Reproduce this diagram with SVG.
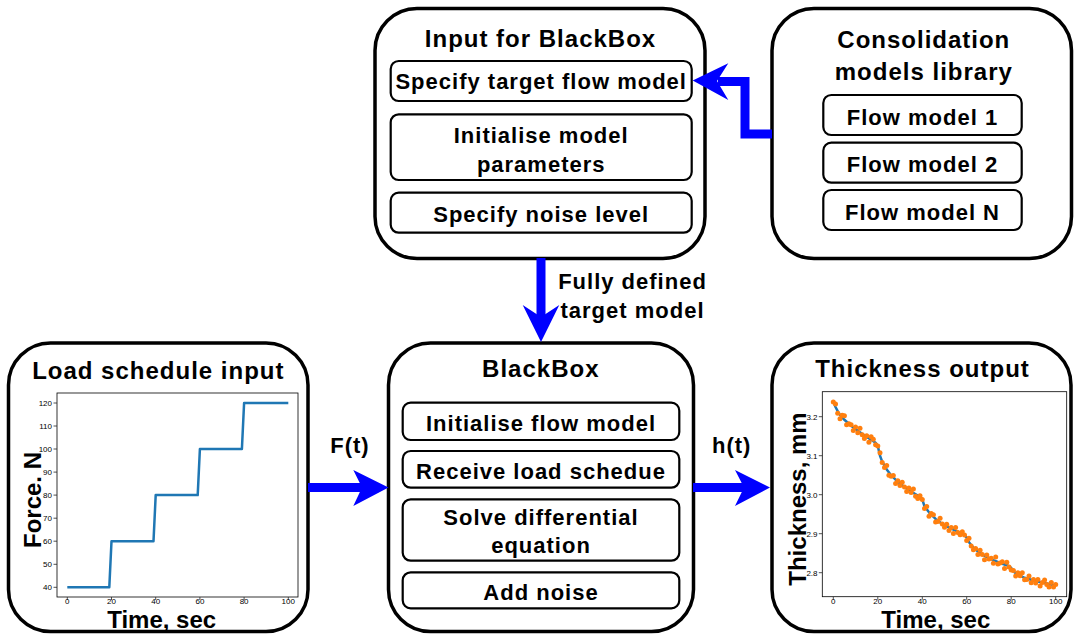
<svg xmlns="http://www.w3.org/2000/svg" width="1074" height="634" viewBox="0 0 1074 634">
<style>
.box{fill:#fff;stroke:#000;stroke-width:3.5}
.inner{fill:#fff;stroke:#000;stroke-width:2.2}
text{font-family:"Liberation Sans",Arial,sans-serif;fill:#000}
.title{font-size:24px;font-weight:bold;letter-spacing:1px;text-anchor:middle}
.lbl{font-size:22px;font-weight:bold;letter-spacing:1px;text-anchor:middle}
.axl{font-size:24px;font-weight:bold;text-anchor:middle}
.tk{font-size:8px;fill:#262626}
.tky{text-anchor:end}
.tkx{text-anchor:middle}
.frame{fill:#fff;stroke:#000;stroke-width:0.8}
.tm{stroke:#262626;stroke-width:0.8}
.conn{fill:none;stroke:#0000ff;stroke-width:9}
.head{fill:#0000ff}
.curve{fill:none;stroke:#1f77b4;stroke-width:2.5;stroke-linejoin:round}
.dots circle{fill:#ff7f0e}
</style>

<g id="input-blackbox">
<rect class="box" x="375" y="8.5" width="330" height="250" rx="42"/>
<text class="title" x="540.5" y="46.7">Input for BlackBox</text>
<rect class="inner" x="390.7" y="61" width="301" height="40" rx="8"/>
<text class="lbl" x="541.2" y="89.3">Specify target flow model</text>
<rect class="inner" x="390.7" y="114.3" width="301" height="65.7" rx="8"/>
<text class="lbl" x="541.2" y="143.3">Initialise model</text>
<text class="lbl" x="541.2" y="171.7">parameters</text>
<rect class="inner" x="390.7" y="192.7" width="301" height="40" rx="8"/>
<text class="lbl" x="541.2" y="221.7">Specify noise level</text>
</g>

<g id="consolidation-library">
<rect class="box" x="772" y="8.5" width="299.5" height="250" rx="42"/>
<text class="title" x="923.8" y="48.3">Consolidation</text>
<text class="title" x="923.8" y="80">models library</text>
<rect class="inner" x="823.3" y="95" width="198.4" height="40" rx="8"/>
<text class="lbl" x="922.5" y="125">Flow model 1</text>
<rect class="inner" x="823.3" y="142.7" width="198.4" height="40" rx="8"/>
<text class="lbl" x="922.5" y="171.7">Flow model 2</text>
<rect class="inner" x="823.3" y="190" width="198.4" height="40" rx="8"/>
<text class="lbl" x="922.5" y="220">Flow model N</text>
</g>

<g id="blackbox">
<rect class="box" x="388.5" y="343" width="305" height="288.5" rx="42"/>
<text class="title" x="540.8" y="376.7">BlackBox</text>
<rect class="inner" x="402.7" y="402.7" width="276.6" height="37.3" rx="8"/>
<text class="lbl" x="541" y="431.2">Initialise flow model</text>
<rect class="inner" x="402.7" y="451" width="276.6" height="36.7" rx="8"/>
<text class="lbl" x="541" y="479">Receive load schedue</text>
<rect class="inner" x="402.7" y="499.3" width="276.6" height="61.4" rx="8"/>
<text class="lbl" x="541" y="525">Solve differential</text>
<text class="lbl" x="541" y="553">equation</text>
<rect class="inner" x="402.7" y="572.3" width="276.6" height="36" rx="8"/>
<text class="lbl" x="541" y="600">Add noise</text>
</g>

<g id="load-schedule">
<rect class="box" x="8.5" y="343" width="299.5" height="288.5" rx="42"/>
<text class="title" x="158.3" y="379.3">Load schedule input</text>
<rect class="frame" x="57" y="393" width="241" height="204"/>
<g class="tm">
<line x1="53.5" y1="587.3" x2="57" y2="587.3"/><line x1="53.5" y1="564.3" x2="57" y2="564.3"/><line x1="53.5" y1="541.2" x2="57" y2="541.2"/><line x1="53.5" y1="518.2" x2="57" y2="518.2"/><line x1="53.5" y1="495.1" x2="57" y2="495.1"/><line x1="53.5" y1="472.1" x2="57" y2="472.1"/><line x1="53.5" y1="449" x2="57" y2="449"/><line x1="53.5" y1="426" x2="57" y2="426"/><line x1="53.5" y1="403" x2="57" y2="403"/>
<line x1="67.3" y1="597" x2="67.3" y2="600"/><line x1="111.5" y1="597" x2="111.5" y2="600"/><line x1="155.7" y1="597" x2="155.7" y2="600"/><line x1="199.9" y1="597" x2="199.9" y2="600"/><line x1="244.1" y1="597" x2="244.1" y2="600"/><line x1="288.3" y1="597" x2="288.3" y2="600"/>
</g>
<g class="tk tky">
<text x="52" y="590.2">40</text><text x="52" y="567.2">50</text><text x="52" y="544.1">60</text><text x="52" y="521.1">70</text><text x="52" y="498">80</text><text x="52" y="475">90</text><text x="52" y="451.9">100</text><text x="52" y="428.9">110</text><text x="52" y="405.9">120</text>
</g>
<g class="tk tkx">
<text x="67.3" y="604">0</text><text x="111.5" y="604">20</text><text x="155.7" y="604">40</text><text x="199.9" y="604">60</text><text x="244.1" y="604">80</text><text x="288.3" y="604">100</text>
</g>
<polyline class="curve" points="67.3,587.3 109.3,587.3 111.5,541.2 153.5,541.2 155.7,495.1 197.7,495.1 199.9,449 241.9,449 244.1,403 288.3,403"/>
<text class="axl" x="161.7" y="627.8">Time, sec</text>
<text class="axl" transform="translate(40.5,500) rotate(-90)">Force. N</text>
</g>

<g id="thickness-output">
<rect class="box" x="772" y="343" width="299" height="288.5" rx="42"/>
<text class="title" x="922.5" y="376.7">Thickness output</text>
<rect class="frame" x="822.3" y="391.7" width="244.4" height="205"/>
<g class="tm">
<line x1="818.8" y1="416.7" x2="822.3" y2="416.7"/><line x1="818.8" y1="455.7" x2="822.3" y2="455.7"/><line x1="818.8" y1="494.7" x2="822.3" y2="494.7"/><line x1="818.8" y1="533.7" x2="822.3" y2="533.7"/><line x1="818.8" y1="572.7" x2="822.3" y2="572.7"/>
<line x1="833.3" y1="596.7" x2="833.3" y2="599.7"/><line x1="877.8" y1="596.7" x2="877.8" y2="599.7"/><line x1="922.3" y1="596.7" x2="922.3" y2="599.7"/><line x1="966.7" y1="596.7" x2="966.7" y2="599.7"/><line x1="1011.2" y1="596.7" x2="1011.2" y2="599.7"/><line x1="1055.7" y1="596.7" x2="1055.7" y2="599.7"/>
</g>
<g class="tk tky">
<text x="817.5" y="419.6">3.2</text><text x="817.5" y="458.6">3.1</text><text x="817.5" y="497.6">3.0</text><text x="817.5" y="536.6">2.9</text><text x="817.5" y="575.6">2.8</text>
</g>
<g class="tk tkx">
<text x="833.3" y="604">0</text><text x="877.8" y="604">20</text><text x="922.3" y="604">40</text><text x="966.7" y="604">60</text><text x="1011.2" y="604">80</text><text x="1055.7" y="604">100</text>
</g>
<polyline class="curve" points="833.3,401.1 835.5,407 837.7,411.2 840,414.8 844.4,419.8 851.1,425.7 857.8,430.7 864.4,435.4 871.1,439.7 875.6,442.8 877.8,446 880,455.7 882.2,461.6 886.7,469.4 891.1,475.2 897.8,481.8 904.5,486.9 911.1,491.6 917.8,495.5 920,496.7 922.3,499.4 924.5,506.4 929,512.3 935.6,518.9 942.3,524 949,527.5 955.6,530.6 962.3,533.7 964.5,534.9 966.7,537.6 969,542.3 973.4,547.7 980.1,553.2 986.8,557.1 993.4,560.2 1000.1,563 1006.8,565.3 1009,566.1 1011.2,568 1013.4,571.5 1017.9,574.7 1024.6,577.8 1033.5,580.5 1042.4,582.5 1049,584 1055.7,585.6"/>
<g class="dots">
<circle cx="833.3" cy="402.1" r="2.5"/><circle cx="835.5" cy="404" r="2.5"/><circle cx="837.7" cy="413.2" r="2.5"/><circle cx="840" cy="418.8" r="2.5"/><circle cx="842.2" cy="415.3" r="2.5"/><circle cx="844.4" cy="415.8" r="2.5"/><circle cx="846.6" cy="424.8" r="2.5"/><circle cx="848.9" cy="423.7" r="2.5"/><circle cx="851.1" cy="424.7" r="2.5"/><circle cx="853.3" cy="430.4" r="2.5"/>
<circle cx="855.5" cy="427" r="2.5"/><circle cx="857.8" cy="432.7" r="2.5"/><circle cx="860" cy="428.3" r="2.5"/><circle cx="862.2" cy="434.8" r="2.5"/><circle cx="864.4" cy="438.4" r="2.5"/><circle cx="866.7" cy="435.8" r="2.5"/><circle cx="868.9" cy="442.3" r="2.5"/><circle cx="871.1" cy="436.7" r="2.5"/><circle cx="873.3" cy="439.3" r="2.5"/><circle cx="875.6" cy="444.8" r="2.5"/>
<circle cx="877.8" cy="446" r="2.5"/><circle cx="880" cy="452.7" r="2.5"/><circle cx="882.2" cy="462.6" r="2.5"/><circle cx="884.5" cy="467.5" r="2.5"/><circle cx="886.7" cy="465.4" r="2.5"/><circle cx="888.9" cy="475.3" r="2.5"/><circle cx="891.1" cy="476.2" r="2.5"/><circle cx="893.3" cy="475.4" r="2.5"/><circle cx="895.6" cy="483.6" r="2.5"/><circle cx="897.8" cy="480.8" r="2.5"/>
<circle cx="900" cy="485.5" r="2.5"/><circle cx="902.2" cy="482.2" r="2.5"/><circle cx="904.5" cy="486.9" r="2.5"/><circle cx="906.7" cy="491.5" r="2.5"/><circle cx="908.9" cy="488" r="2.5"/><circle cx="911.1" cy="492.6" r="2.5"/><circle cx="913.4" cy="488.9" r="2.5"/><circle cx="915.6" cy="496.2" r="2.5"/><circle cx="917.8" cy="498.5" r="2.5"/><circle cx="920" cy="495.7" r="2.5"/>
<circle cx="922.3" cy="499.4" r="2.5"/><circle cx="924.5" cy="508.4" r="2.5"/><circle cx="926.7" cy="506.4" r="2.5"/><circle cx="929" cy="516.3" r="2.5"/><circle cx="931.2" cy="513.5" r="2.5"/><circle cx="933.4" cy="514.7" r="2.5"/><circle cx="935.6" cy="521.9" r="2.5"/><circle cx="937.8" cy="521.6" r="2.5"/><circle cx="940.1" cy="518.3" r="2.5"/><circle cx="942.3" cy="524" r="2.5"/>
<circle cx="944.5" cy="527.2" r="2.5"/><circle cx="946.7" cy="524.3" r="2.5"/><circle cx="949" cy="530.5" r="2.5"/><circle cx="951.2" cy="527.5" r="2.5"/><circle cx="953.4" cy="533.6" r="2.5"/><circle cx="955.6" cy="527.6" r="2.5"/><circle cx="957.8" cy="532.6" r="2.5"/><circle cx="960.1" cy="534.7" r="2.5"/><circle cx="962.3" cy="531.7" r="2.5"/><circle cx="964.5" cy="534.9" r="2.5"/>
<circle cx="966.7" cy="540.6" r="2.5"/><circle cx="969" cy="538.3" r="2.5"/><circle cx="971.2" cy="546" r="2.5"/><circle cx="973.4" cy="549.7" r="2.5"/><circle cx="975.6" cy="548.5" r="2.5"/><circle cx="977.9" cy="554.4" r="2.5"/><circle cx="980.1" cy="550.2" r="2.5"/><circle cx="982.3" cy="554.5" r="2.5"/><circle cx="984.5" cy="559.8" r="2.5"/><circle cx="986.8" cy="555.1" r="2.5"/>
<circle cx="989" cy="559.1" r="2.5"/><circle cx="991.2" cy="558.2" r="2.5"/><circle cx="993.4" cy="563.2" r="2.5"/><circle cx="995.7" cy="557.1" r="2.5"/><circle cx="997.9" cy="564.1" r="2.5"/><circle cx="1000.1" cy="563" r="2.5"/><circle cx="1002.3" cy="561.8" r="2.5"/><circle cx="1004.5" cy="568.5" r="2.5"/><circle cx="1006.8" cy="562.3" r="2.5"/><circle cx="1009" cy="567.1" r="2.5"/>
<circle cx="1011.2" cy="570" r="2.5"/><circle cx="1013.4" cy="570.5" r="2.5"/><circle cx="1015.7" cy="576.1" r="2.5"/><circle cx="1017.9" cy="572.7" r="2.5"/><circle cx="1020.1" cy="575.7" r="2.5"/><circle cx="1022.3" cy="572.8" r="2.5"/><circle cx="1024.6" cy="579.8" r="2.5"/><circle cx="1026.8" cy="579.5" r="2.5"/><circle cx="1029" cy="576.1" r="2.5"/><circle cx="1031.2" cy="582.8" r="2.5"/>
<circle cx="1033.5" cy="579.5" r="2.5"/><circle cx="1035.7" cy="583" r="2.5"/><circle cx="1037.9" cy="579.5" r="2.5"/><circle cx="1040.1" cy="586" r="2.5"/><circle cx="1042.4" cy="582.5" r="2.5"/><circle cx="1044.6" cy="580" r="2.5"/><circle cx="1046.8" cy="584.5" r="2.5"/><circle cx="1049" cy="587" r="2.5"/><circle cx="1051.3" cy="582.5" r="2.5"/><circle cx="1053.5" cy="587.1" r="2.5"/>
<circle cx="1055.7" cy="584.6" r="2.5"/>
</g>
<text class="axl" x="935.8" y="627.8">Time, sec</text>
<text class="axl" transform="translate(806,499) rotate(-90)">Thickness, mm</text>
</g>

<g id="connectors">
<polyline class="conn" points="772,134 745,134 745,81.5 718,81.5"/>
<path class="head" d="M692.7,80.5 L728.3,63.3 L717,81 L728.3,100 Z"/>
<line class="conn" x1="541" y1="258" x2="541" y2="318"/>
<path class="head" d="M541,342 L522.7,305 L541,317 L559.3,305 Z"/>
<text class="lbl" x="632.5" y="289.3">Fully defined</text>
<text class="lbl" x="632.5" y="318.3">target model</text>
<line class="conn" x1="308" y1="487.5" x2="364" y2="487.5"/>
<path class="head" d="M388.5,487.5 L353.3,470 L362,487.5 L353.3,506 Z"/>
<text class="lbl" x="350" y="453.3">F(t)</text>
<line class="conn" x1="693" y1="487.5" x2="746" y2="487.5"/>
<path class="head" d="M770,487.5 L735,470 L744,487.5 L735,506 Z"/>
<text class="lbl" x="731.7" y="453.3">h(t)</text>
</g>
</svg>
